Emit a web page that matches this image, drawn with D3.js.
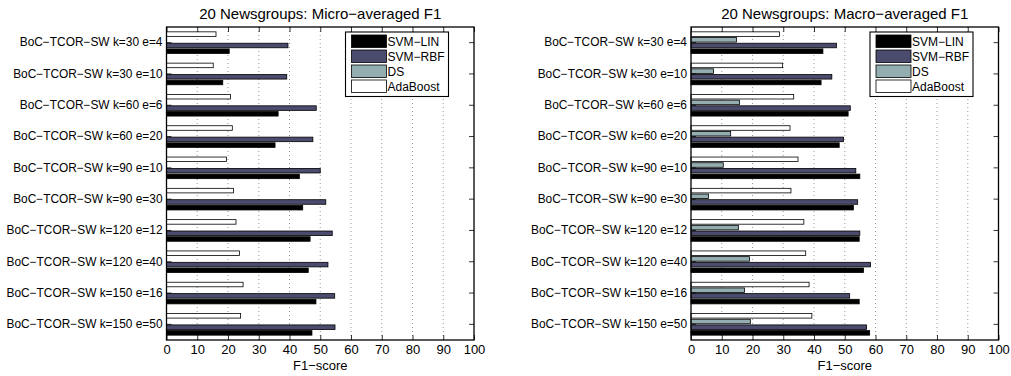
<!DOCTYPE html>
<html>
<head>
<meta charset="utf-8">
<script src="https://cdn.jsdelivr.net/npm/d3@7"></script>
<style>
  body { margin: 0; background: #fff; }
  text { font-family: "Liberation Sans", Arial, sans-serif; fill: #000; }
</style>
</head>
<body>
<svg id="chart" width="1011" height="376"></svg>
<script>
// categories (top to bottom)
const categories = [
  "BoC−TCOR−SW k=30 e=4", "BoC−TCOR−SW k=30 e=10", "BoC−TCOR−SW k=60 e=6",
  "BoC−TCOR−SW k=60 e=20", "BoC−TCOR−SW k=90 e=10", "BoC−TCOR−SW k=90 e=30",
  "BoC−TCOR−SW k=120 e=12", "BoC−TCOR−SW k=120 e=40", "BoC−TCOR−SW k=150 e=16",
  "BoC−TCOR−SW k=150 e=50"
];
const seriesNames = ["SVM−LIN", "SVM−RBF", "DS", "AdaBoost"];
const seriesColors = ["#000000", "#4b4b6e", "#94adb0", "#ffffff"];
const xTicks = [0, 10, 20, 30, 40, 50, 60, 70, 80, 90, 100];

// Micro-averaged F1
const microLin = [20.4, 18.3, 36.3, 35.3, 43.2, 44.3, 46.7, 46.1, 48.6, 47.3];
const microRbf = [39.5, 39.1, 48.7, 47.6, 50.0, 51.8, 53.9, 52.5, 54.7, 54.8];
const microDs  = [0, 0, 0, 0, 0, 0, 0, 0, 0, 0];
const microAda = [16.1, 15.2, 20.8, 21.4, 19.5, 21.8, 22.6, 23.7, 24.9, 24.1];

// Macro-averaged F1
const macroLin = [42.9, 42.3, 51.1, 48.2, 54.9, 52.8, 54.7, 56.1, 54.7, 58.1];
const macroRbf = [47.3, 45.8, 51.8, 49.6, 53.6, 54.2, 54.9, 58.4, 51.6, 57.1];
const macroDs  = [14.8, 7.3, 15.8, 12.9, 10.5, 5.7, 15.4, 19.0, 17.4, 19.3];
const macroAda = [28.8, 29.8, 33.4, 32.2, 34.8, 32.5, 36.7, 37.3, 38.4, 39.3];

const svg = d3.select("#chart");

function panel(left, right, title, values) {
  const top = 27, bottom = 340;
  const g = svg.append("g");

  const x = d3.scaleLinear().domain([0, 100]).range([left, right]);
  const y = d3.scaleBand().domain(categories).range([top, bottom]);

  // grouped bar layout like matlab: group width n/(n+1.5)
  const n = seriesNames.length;
  const gw = y.step() * (n / (n + 1.5));
  const inner = d3.scaleBand()
    .domain(seriesNames.slice().reverse())
    .range([-gw / 2, gw / 2])
    .paddingInner(0.2)
    .paddingOuter(0.1);

  // grid
  g.append("g")
    .selectAll("line")
    .data(xTicks.slice(1, -1))
    .join("line")
    .attr("x1", (d) => x(d)).attr("x2", (d) => x(d))
    .attr("y1", top).attr("y2", bottom)
    .attr("stroke", "#555")
    .attr("stroke-width", 0.6)
    .attr("stroke-dasharray", "1,3");

  // bars
  seriesNames.forEach((s, si) => {
    g.append("g")
      .selectAll("rect")
      .data(values[si])
      .join("rect")
      .attr("x", x(0))
      .attr("y", (d, i) => y(categories[i]) + y.bandwidth() / 2 + inner(s))
      .attr("width", (d) => x(d) - x(0))
      .attr("height", inner.bandwidth())
      .attr("fill", seriesColors[si])
      .attr("stroke", "#000")
      .attr("stroke-width", 0.8)
      .attr("display", (d) => (d > 0 ? null : "none"));
  });

  // axes
  const xb = g.append("g")
    .attr("transform", `translate(0,${bottom})`)
    .call(d3.axisBottom(x).tickValues(xTicks).tickSize(-5).tickPadding(5));
  const xt = g.append("g")
    .attr("transform", `translate(0,${top})`)
    .call(d3.axisTop(x).tickValues(xTicks).tickSize(-5).tickFormat(""));
  const yl = g.append("g")
    .attr("transform", `translate(${left},0)`)
    .call(d3.axisLeft(y).tickSize(-5).tickPadding(4));
  const yr = g.append("g")
    .attr("transform", `translate(${right},0)`)
    .call(d3.axisRight(y).tickSize(-5).tickFormat(""));

  [xb, xt, yl, yr].forEach((a) => {
    a.select(".domain").remove();
    a.selectAll(".tick line").attr("stroke", "#000").attr("stroke-width", 0.8);
  });
  xb.selectAll("text").attr("font-size", 13).attr("font-family", "Liberation Sans");
  yl.selectAll("text").attr("font-size", 11.9).attr("font-family", "Liberation Sans");

  // box
  g.append("rect")
    .attr("x", left).attr("y", top)
    .attr("width", right - left).attr("height", bottom - top)
    .attr("fill", "none")
    .attr("stroke", "#000")
    .attr("stroke-width", 1.3);

  // title & label
  g.append("text")
    .attr("x", (left + right) / 2).attr("y", 19)
    .attr("text-anchor", "middle")
    .attr("font-size", 15)
    .text(title);
  g.append("text")
    .attr("x", (left + right) / 2).attr("y", 370)
    .attr("text-anchor", "middle")
    .attr("font-size", 13)
    .text("F1−score");

  // legend
  const lx = right - 128.5, ly = 32;
  const lg = g.append("g").attr("transform", `translate(${lx},${ly})`);
  lg.append("rect")
    .attr("width", 103).attr("height", 64.5)
    .attr("fill", "#fff")
    .attr("stroke", "#000")
    .attr("stroke-width", 1.1);
  seriesNames.forEach((s, si) => {
    lg.append("rect")
      .attr("x", 6).attr("y", 3 + si * 15)
      .attr("width", 35).attr("height", 12.5)
      .attr("fill", seriesColors[si])
      .attr("stroke", "#000")
      .attr("stroke-width", 0.8);
    lg.append("text")
      .attr("x", 42).attr("y", 14.3 + si * 15)
      .attr("font-size", 12)
      .text(s);
  });
}

panel(166.5, 474, "20 Newsgroups: Micro−averaged F1", [microLin, microRbf, microDs, microAda]);
panel(691, 998.5, "20 Newsgroups: Macro−averaged F1", [macroLin, macroRbf, macroDs, macroAda]);
</script>
</body>
</html>
